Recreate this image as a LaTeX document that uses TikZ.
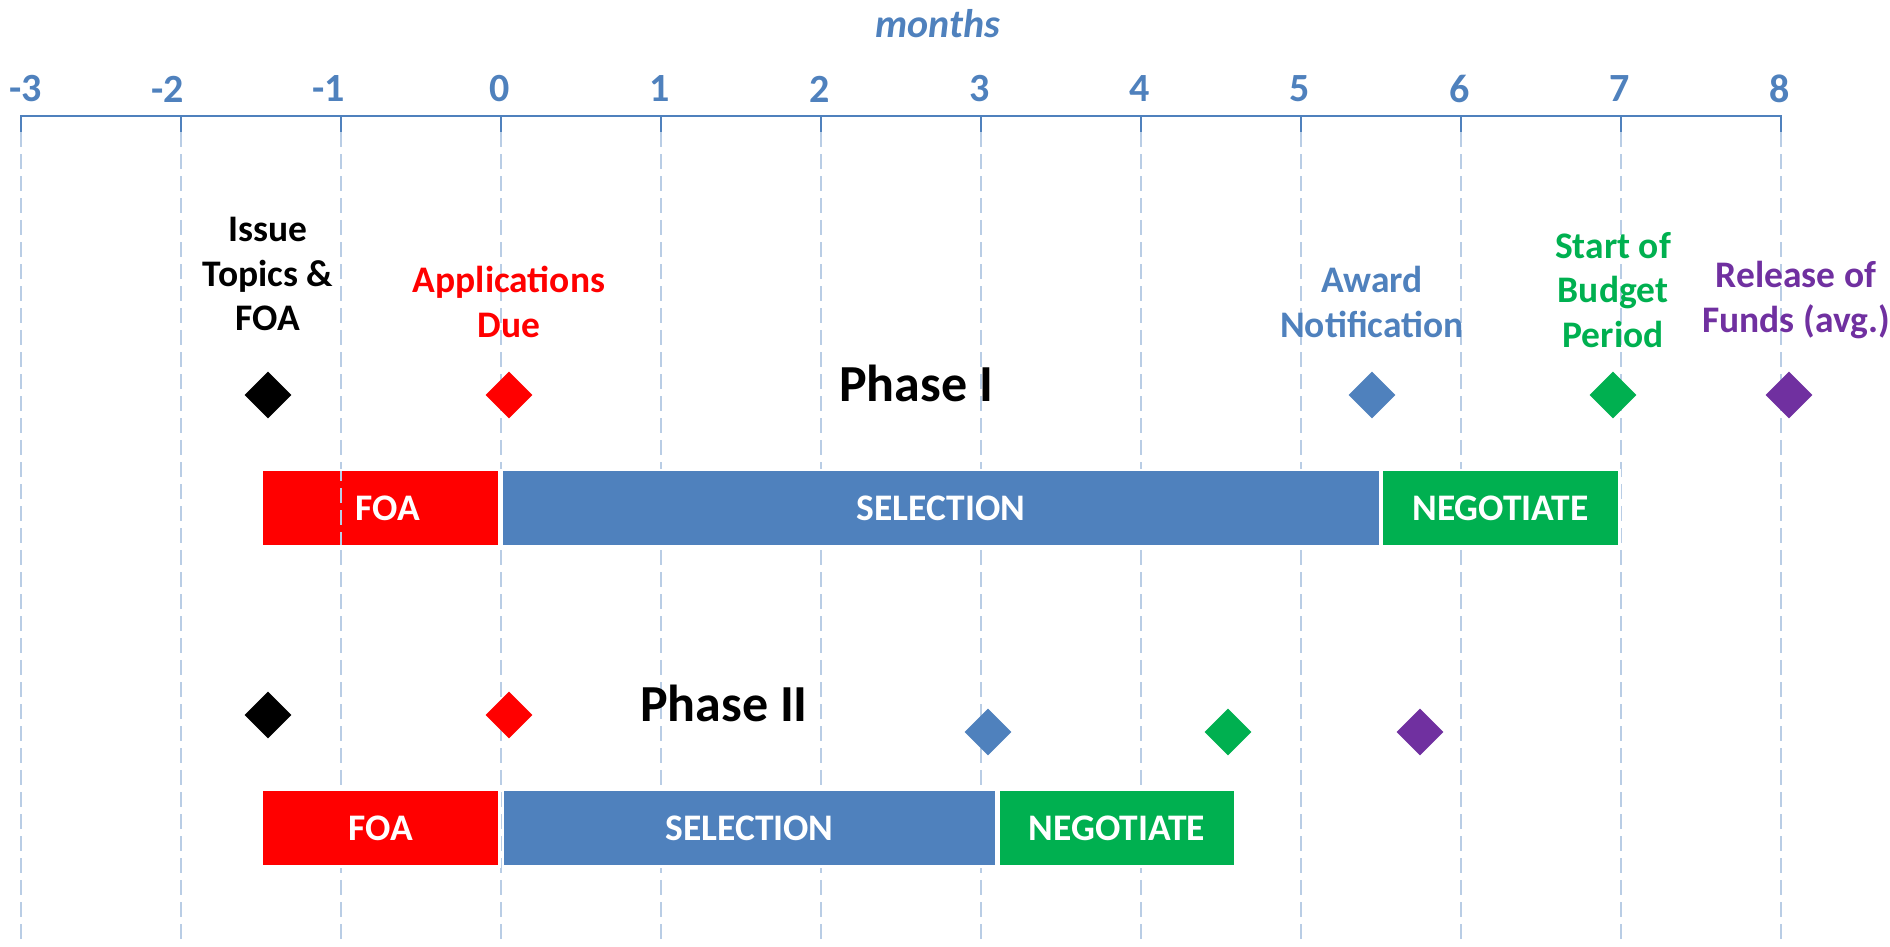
\documentclass[tikz,border=0pt]{standalone}
\usepackage{fontspec}
\setmainfont{Carlito}
\usetikzlibrary{shapes.geometric}
\definecolor{cblue}{HTML}{4F81BD}
\definecolor{cgrid}{HTML}{B9CDE5}
\definecolor{cred}{HTML}{FF0000}
\definecolor{cgreen}{HTML}{00B050}
\definecolor{cpurple}{HTML}{7030A0}
\begin{document}
\begin{tikzpicture}[x=1pt,y=-1pt,
  ev/.style={align=center,font=\bfseries\fontsize{37.5}{44.5}\selectfont,inner sep=0pt},
  dia/.style={diamond,inner sep=0pt,minimum width=47pt,minimum height=47pt,fill=#1},
  barbox/.style={fill=#1,draw=white,line width=2.5pt,text=white,
    font=\bfseries\fontsize{37.5}{44}\selectfont,inner sep=0pt,minimum height=76.5pt},
  ticklab/.style={text=cblue,font=\bfseries\fontsize{40}{48}\selectfont,inner sep=0pt},
  phase/.style={font=\bfseries\fontsize{52}{60}\selectfont,inner sep=0pt},
  gridline/.style={cgrid,line width=2pt,dash pattern=on 15pt off 7pt},
  tickline/.style={cblue,line width=2pt}]
\useasboundingbox (0,0) rectangle (1890,946);
% axis title
\node[text=cblue,font=\bfseries\itshape\fontsize{40}{48}\selectfont,inner sep=0pt] (months) at (938,24) {months};
% axis
\draw[cblue,line width=2.3pt] (20,116) -- (1782,116);
\foreach \i in {-3,...,8}{
  \pgfmathsetmacro{\xx}{21+160*(\i+3)}
  \draw[tickline] (\xx,116) -- (\xx,132);
  \draw[gridline] (\xx,132) -- (\xx,940);
}
% tick labels
\node[ticklab] (tm3) at (26,89) {-3};
\node[ticklab] (tm2) at (168,89) {-2};
\node[ticklab] (tm1) at (329,89) {-1};
\foreach \i in {0,...,8}{
  \pgfmathsetmacro{\xx}{20+160*(\i+3)}
  \node[ticklab] (t\i) at (\xx,89) {\i};
}
% event labels
\node[ev,text=black] (issue) at (268,274) {Issue\\Topics \&\\FOA};
\node[ev,text=cred] (apps) at (509,302) {Applications\\Due};
\node[ev,text=cblue] (award) at (1372,302) {Award\\Notification};
\node[ev,text=cgreen] (start) at (1613,290) {Start of\\Budget\\Period};
\node[ev,text=cpurple] (release) at (1796,300) {Release of\\Funds (avg.)};
% Phase I
\node[phase] (ph1) at (916,383) {Phase I};
\node[dia=black] (d1a) at (268,395) {};
\node[dia=cred] (d1b) at (509,395) {};
\node[dia=cblue] (d1c) at (1372,395) {};
\node[dia=cgreen] (d1d) at (1613,395) {};
\node[dia=cpurple] (d1e) at (1789,395) {};
\node[barbox=cred,minimum width=237.5pt] (foa1) at (380.5,508) {\hspace*{14pt}FOA};
\node[barbox=cblue,minimum width=878.5pt] (sel1) at (941,508) {SELECTION};
\node[barbox=cgreen,minimum width=237.5pt] (neg1) at (1500.5,508) {NEGOTIATE};
\draw[gridline,dash phase=5pt] (341,471) -- (341,545);
% Phase II
\node[phase] (ph2) at (724,703) {Phase II};
\node[dia=black] (d2a) at (268,715) {};
\node[dia=cred] (d2b) at (509,715) {};
\node[dia=cblue] (d2c) at (988,732) {};
\node[dia=cgreen] (d2d) at (1228,732) {};
\node[dia=cpurple] (d2e) at (1420,732) {};
\node[barbox=cred,minimum width=237.5pt] (foa2) at (380.5,828) {FOA};
\node[barbox=cblue,minimum width=493.5pt] (sel2) at (749.5,828) {SELECTION};
\node[barbox=cgreen,minimum width=236.5pt] (neg2) at (1117,828) {NEGOTIATE};
\end{tikzpicture}
\end{document}
